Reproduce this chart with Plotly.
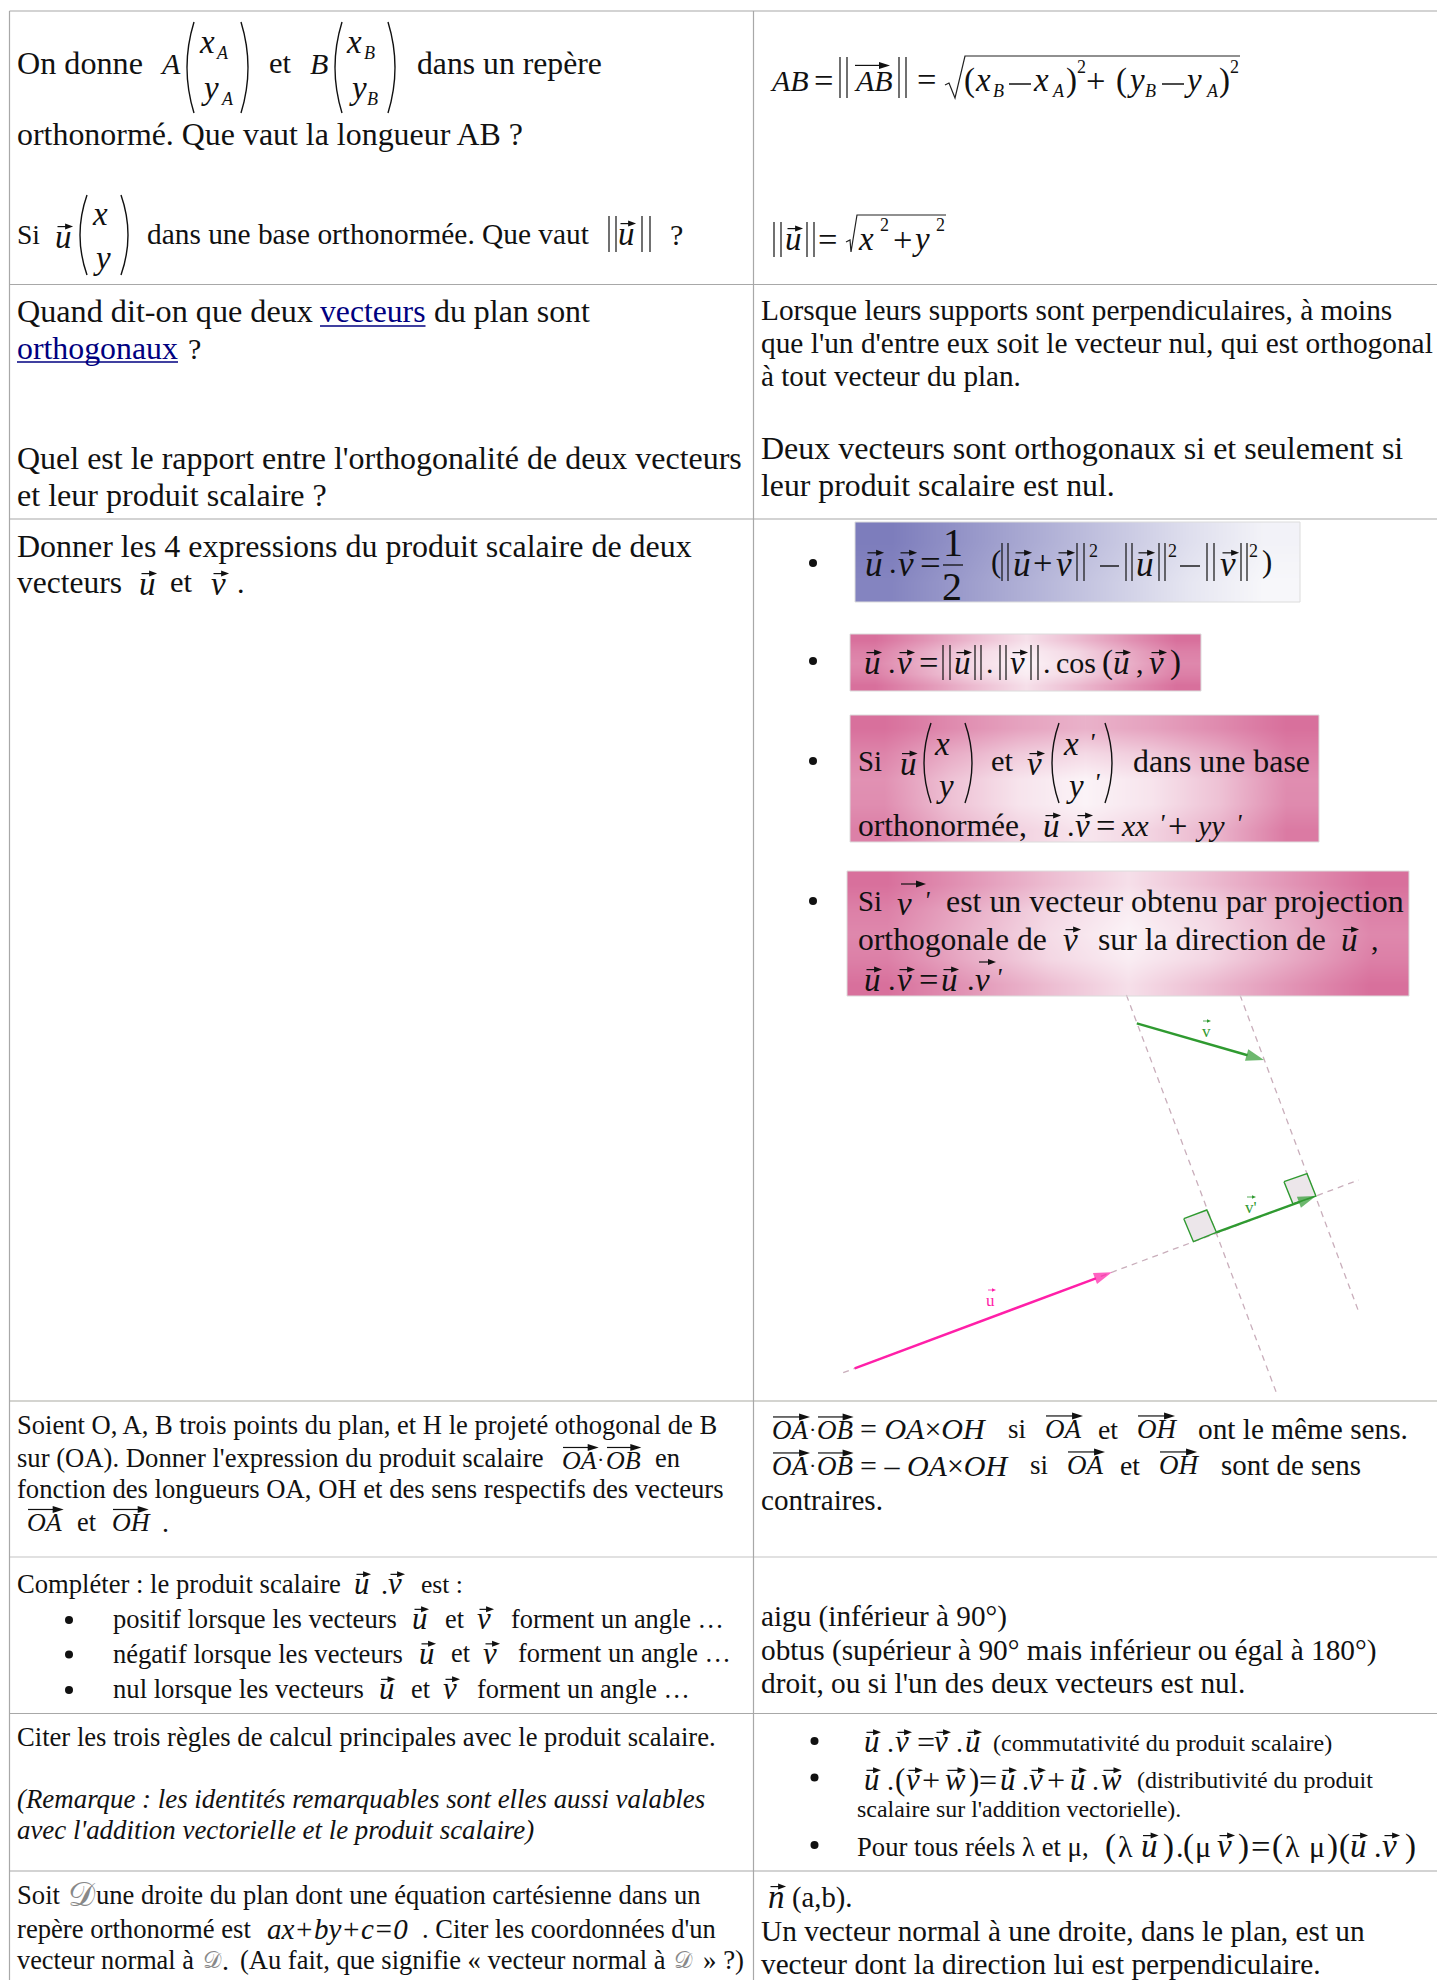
import unicodedata
import numpy as np
import plotly.graph_objects as go

# ---------- document texts ----------
R1_LEFT = ["On donne", "et", "dans un repère", "orthonormé. Que vaut la longueur AB ?",
           "Si", "dans une base orthonormée. Que vaut", "?"]
R2_LEFT = ["Quand dit-on que deux", "vecteurs", "du plan sont", "orthogonaux", "?",
           "Quel est le rapport entre l'orthogonalité de deux vecteurs",
           "et leur produit scalaire ?"]
R2_RIGHT = ["Lorsque leurs supports sont perpendiculaires, à moins",
            "que l'un d'entre eux soit le vecteur nul, qui est orthogonal",
            "à tout vecteur du plan.",
            "Deux vecteurs sont orthogonaux si et seulement si",
            "leur produit scalaire est nul."]
R3_LEFT = ["Donner les 4 expressions du produit scalaire de deux", "vecteurs", "et", "."]
R3_BOX = ["Si", "et", "dans une base", "orthonormée,",
          "est un vecteur obtenu par projection", "orthogonale de",
          "sur la direction de", ","]
R4_LEFT = ["Soient O, A, B trois points du plan, et H le projeté othogonal de B",
           "sur (OA). Donner l'expression du produit scalaire", "en",
           "fonction des longueurs OA, OH et des sens respectifs des vecteurs", "et", "."]
R4_RIGHT = ["si", "et", "ont le même sens.", "sont de sens", "contraires."]
R5_LEFT = ["Compléter : le produit scalaire", "est :",
           "positif lorsque les vecteurs", "négatif lorsque les vecteurs",
           "nul lorsque les vecteurs", "et", "forment un angle …"]
R5_RIGHT = ["aigu (inférieur à 90°)", "obtus (supérieur à 90° mais inférieur ou égal à 180°)",
            "droit, ou si l'un des deux vecteurs est nul."]
R6_LEFT = ["Citer les trois règles de calcul principales avec le produit scalaire.",
           "(Remarque : les identités remarquables sont elles aussi valables",
           "avec l'addition vectorielle et le produit scalaire)"]
R6_RIGHT = ["(commutativité du produit scalaire)", "(distributivité du produit",
            "scalaire sur l'addition vectorielle).", "Pour tous réels λ et μ,"]
R7_LEFT = ["Soit", "une droite du plan dont une équation cartésienne dans un",
           "repère orthonormé est", ". Citer les coordonnées d'un", "vecteur normal à",
           "(Au fait, que signifie « vecteur normal à", "» ?)"]
R7_RIGHT = ["(a,b).", "Un vecteur normal à une droite, dans le plan, est un",
            "vecteur dont la direction lui est perpendiculaire."]

# ---------- geometric figure (vectors and projection lines) ----------
DASH_1_X, DASH_1_Y = [1126.4, 1276.5], [995, 1393]
DASH_2_X, DASH_2_Y = [1240, 1358.7], [995, 1311.7]
BASE_X, BASE_Y = [843.2, 1358.7], [1372.7, 1180]
V_X, V_Y = [1136.8, 1264], [1023.3, 1060]
U_X, U_Y = [854.7, 1111.9], [1368.3, 1272.3]
VP_X, VP_Y = [1216.4, 1315.9], [1232.3, 1196]
SQ1_X, SQ1_Y = [1183.8, 1206.8, 1216.4, 1193.4, 1183.8], [1218.7, 1210, 1232.3, 1241.7, 1218.7]
SQ2_X, SQ2_Y = [1284, 1307, 1315.9, 1293, 1284], [1181.7, 1173.7, 1196, 1204, 1181.7]

# ---------- list bullets ----------
BULLET_X = [813, 813, 813, 813, 69, 69, 69, 814.5, 814.5, 814.5]
BULLET_Y = [563, 661, 761, 901, 1620, 1654.5, 1690, 1741, 1777.5, 1845]

# ---------- box gradients ----------
GRAD_BLUE = [[0.0, 0.2, 0.4, 0.6, 0.8, 0.96], [0.06, 0.26, 0.46, 0.66, 0.86, 1.0]]
GRAD_PINK = [[1.00, 0.72, 0.42, 0.15, 0.42, 0.72, 1.00],
             [0.88, 0.55, 0.22, 0.05, 0.22, 0.55, 0.88],
             [0.82, 0.50, 0.18, 0.00, 0.18, 0.50, 0.82],
             [0.88, 0.55, 0.22, 0.05, 0.22, 0.55, 0.88],
             [1.00, 0.72, 0.42, 0.15, 0.42, 0.72, 1.00]]
GRAD_PINK_LOW = [[1.00, 0.80, 0.62, 0.50, 0.62, 0.80, 1.00],
                 [0.85, 0.55, 0.32, 0.20, 0.32, 0.55, 0.88],
                 [0.75, 0.38, 0.12, 0.00, 0.12, 0.38, 0.78],
                 [0.78, 0.38, 0.12, 0.00, 0.12, 0.38, 0.80],
                 [0.88, 0.50, 0.25, 0.10, 0.25, 0.50, 0.92]]

SERIF = "Liberation Serif"
W = dict(zip("abcdefghijklmnopqrstuvwxyz",
             [.444,.5,.444,.5,.444,.333,.5,.5,.278,.278,.5,.278,.778,.5,.5,.5,.5,.333,.389,.278,.5,.5,.722,.5,.5,.444]))
W.update(zip("ABCDEFGHIJKLMNOPQRSTUVWXYZ",
             [.722,.667,.667,.722,.611,.556,.722,.722,.333,.389,.722,.611,.889,.722,.722,.556,.722,.667,.556,.611,.722,.722,.944,.722,.722,.611]))
W.update({" ":.25, ".":.25, ",":.25, ":":.278, "'":.18, "(":.333, ")":.333, "?":.444, "-":.333,
          "°":.4, "…":1.0, "«":.5, "»":.5, "λ":.55, "μ":.5})
for d in "0123456789":
    W[d] = .5


def em(s):
    t = 0
    for c in s:
        base = unicodedata.normalize("NFD", c)[0]
        t += W.get(base, .5)
    return t


ann, shp = [], []
DX, DY = -1.2, -0.7


def put(s, x, y, size, color="#111", italic=False, anchor="left", family=SERIF):
    if italic and len(s) == 1 and s.islower() and size >= 24:
        size *= 1.1
        x -= 1.5
    if s in ("=", "+") and size >= 24:
        size *= 1.15
        x -= 1.5
    if s in ("(", ")") and size >= 24:
        size *= 1.1
    ann.append(dict(x=x + DX, y=y + DY, xref="x", yref="y", text=f"<i>{s}</i>" if italic else s,
                    showarrow=False, xanchor=anchor, yanchor="middle", borderpad=0,
                    font=dict(family=family, size=size, color=color)))


def T(s, x0, x1, y, color="#111", italic=False):
    put(s, x0, y, (x1 - x0) / em(s), color, italic)


def line(x0, y0, x1, y1, w=1.0, c="#111"):
    shp.append(dict(type="line", x0=x0, y0=y0, x1=x1, y1=y1, xref="x", yref="y",
                    line=dict(color=c, width=w)))


def arrow(x0, x1, y, c="#111", w=1.2, h=3.0, L=8):
    line(x0, y, x1 - L * 0.6, y, w, c)
    shp.append(dict(type="path", xref="x", yref="y", fillcolor=c, line=dict(width=0),
                    path=f"M {x1},{y} L {x1-L},{y-h} L {x1-L},{y+h} Z"))


def V(s, x, y, size=30, wid=None):
    put(s, x, y, size, italic=True)
    w = wid or size * 0.52
    arrow(x + 0.5, x + w + 0.5, y - 0.38 * size)


def OV(s, x, y, size=27, x1=None):
    put(s, x, y, size, italic=True)
    w = (x1 - x) if x1 else em(s) * size * 0.95
    arrow(x + 1, x + w + 1, y - 0.52 * size, h=3.5, L=11)


def bars(x0, x1, y0, y1):
    line(x0, y0, x0, y1, 1.2)
    line(x1, y0, x1, y1, 1.2)


def paren(x0, x1, y0, y1, left=True):
    a, b = (x1, x0) if left else (x0, x1)
    ctrl = 2 * b - a
    shp.append(dict(type="path", xref="x", yref="y", line=dict(color="#111", width=1.4),
                    path=f"M {a},{y0} Q {ctrl},{(y0+y1)/2} {a},{y1}"))


def root(x0, xb, xt, x2, ym, yb, yt):
    shp.append(dict(type="path", xref="x", yref="y", line=dict(color="#222", width=1.2),
                    path=f"M {x0},{ym} L {x0+4},{ym-2} L {xb},{yb} L {xt},{yt} L {x2},{yt}"))


# ---------- grid ----------
for y, c, w in [(11, "#a8a8a8", 1.2), (284.5, "#a8a8a8", 1.2), (519, "#a8a8a8", 1.2), (1401, "#d4d4d0", 2.2),
                (1557, "#c4c4c4", 1.2), (1713.5, "#a8a8a8", 1.2), (1871, "#a8a8a8", 1.2)]:
    line(9.5, y, 1437, y, w, c)
line(9.5, 11, 9.5, 1980, 1.2, "#a8a8a8")
line(753.5, 11, 753.5, 1980, 1.2, "#a8a8a8")

# ---------- row 1 left ----------
T(R1_LEFT[0], 17, 143, 64)
put("A", 160, 64, 30, italic=True)
paren(187, 194, 22, 113); paren(241, 248, 22, 113, False)
put("x", 201, 43, 30, italic=True); put("A", 216, 54, 18, italic=True)
put("y", 203, 89, 30, italic=True); put("A", 221, 100, 18, italic=True)
T(R1_LEFT[1], 269, 291, 64)
put("B", 310, 64, 30, italic=True)
paren(335, 342, 22, 113); paren(388, 395, 22, 113, False)
put("x", 348, 43, 30, italic=True); put("B", 364, 54, 18, italic=True)
put("y", 351, 89, 30, italic=True); put("B", 367, 100, 18, italic=True)
T(R1_LEFT[2], 417, 602, 64)
T(R1_LEFT[3], 17, 525, 135)
T(R1_LEFT[4], 17, 40, 235)
V("u", 57, 238)
paren(80, 87, 195, 275); paren(121, 128, 195, 275, False)
put("x", 94, 215, 30, italic=True); put("y", 95, 259, 30, italic=True)
T(R1_LEFT[5], 147, 589, 235)
bars(609, 616, 216, 252); V("u", 620, 235); bars(642, 650, 216, 252)
put(R1_LEFT[6], 670, 235, 30)

# ---------- row 1 right ----------
put("AB", 770, 81, 30, italic=True); put("=", 816, 81, 30)
bars(840, 847, 57, 98); OV("AB", 854, 81, 30, 889); bars(899, 906, 57, 98)
put("=", 919, 80, 30)
root(945, 955, 965, 1240, 85, 98, 56)
put("(", 964, 81, 30); put("x", 977, 81, 30, italic=True); put("B", 993, 92, 18, italic=True)
line(1009, 84, 1031, 84, 1.5)
put("x", 1035, 81, 30, italic=True); put("A", 1052, 92, 18, italic=True)
put(")", 1066, 81, 30); put("2", 1077, 68, 18)
put("+", 1088, 81, 30)
put("(", 1116, 81, 30); put("y", 1129, 81, 30, italic=True); put("B", 1145, 92, 18, italic=True)
line(1162, 84, 1184, 84, 1.5)
put("y", 1186, 81, 30, italic=True); put("A", 1206, 92, 18, italic=True)
put(")", 1219, 81, 30); put("2", 1230, 68, 18)

bars(774, 781, 222, 257); V("u", 787, 240); bars(807, 814, 222, 257)
put("=", 820, 240, 30)
root(846, 851, 857, 946, 242, 252, 215)
put("x", 860, 240, 30, italic=True); put("2", 880, 226, 18)
put("+", 895, 240, 30); put("y", 914, 240, 30, italic=True); put("2", 936, 226, 18)

# ---------- row 2 ----------
LINK = "#000080"
T(R2_LEFT[0], 17, 313, 312)
T(R2_LEFT[1], 320, 425.5, 312, LINK)
line(320, 326, 425.5, 326, 1.4, LINK)
T(R2_LEFT[2], 434, 590, 312)
T(R2_LEFT[3], 17, 178, 349, LINK)
line(17, 362, 178, 362, 1.4, LINK)
put(R2_LEFT[4], 188, 349, 30)
T(R2_LEFT[5], 17, 742, 459)
T(R2_LEFT[6], 17, 327, 496)
T(R2_RIGHT[0], 761, 1392.5, 311)
T(R2_RIGHT[1], 761, 1433, 344)
T(R2_RIGHT[2], 761, 1021, 377)
T(R2_RIGHT[3], 761, 1403.5, 449)
T(R2_RIGHT[4], 761, 1115, 486)

# ---------- row 3 left ----------
T(R3_LEFT[0], 17, 692, 547)
T(R3_LEFT[1], 17, 122, 583)
V("u", 141, 585)
T(R3_LEFT[2], 170, 192, 583)
V("v", 213, 585)
put(R3_LEFT[3], 237, 583, 30)


# ---------- row 3 boxes ----------
def grad(x0, x1, y0, y1, z, scale, edge="#dcdcdc"):
    rows, cols = len(z), len(z[0])
    hx, hy = (x1 - x0) / cols / 2, (y1 - y0) / rows / 2
    traces.append(go.Heatmap(z=z, x=np.linspace(x0 + hx, x1 - hx, cols), y=np.linspace(y0 + hy, y1 - hy, rows),
                             colorscale=scale, zmin=0, zmax=1, zsmooth="best", showscale=False, hoverinfo="skip"))
    shp.append(dict(type="rect", x0=x0, x1=x1, y0=y0, y1=y1, xref="x", yref="y", line=dict(color=edge, width=1)))


traces = []
BLUE = [[0, "#7d7dbc"], [1, "#f7f7fa"]]
PINK = [[0, "#fbf3f7"], [1, "#d8709c"]]
grad(855, 1300, 522, 602, GRAD_BLUE, BLUE)
grad(850, 1201, 634, 691, GRAD_PINK, PINK)
grad(850, 1319, 715, 842, GRAD_PINK_LOW, PINK)
grad(847, 1409, 871, 996, GRAD_PINK, PINK)

# box 1
V("u", 867, 565, 32); put(".", 889, 563, 30); V("v", 900, 565, 32); put("=", 922, 563, 32)
put("1", 943, 543, 40); line(943, 565, 963, 565, 1.3); put("2", 942, 587, 40)
put("(", 991, 563, 28)
bars(1002, 1008, 543, 581); V("u", 1015, 565, 32); put("+", 1035, 563, 30); V("v", 1058, 565, 32)
bars(1077, 1084, 543, 581); put("2", 1089, 552, 18)
line(1100, 566, 1119, 566, 1.4)
bars(1126, 1132, 543, 581); V("u", 1138, 565, 32); bars(1159, 1165, 543, 581); put("2", 1168, 552, 18)
line(1180, 566, 1200, 566, 1.4)
bars(1207, 1214, 543, 581); V("v", 1222, 565, 32); bars(1241, 1247, 543, 581); put("2", 1249, 552, 18)
put(")", 1262, 563, 28)
# box 2
V("u", 866, 664, 30); put(".", 888, 663, 30); V("v", 899, 664, 30); put("=", 921, 663, 30)
bars(943, 950, 645, 680); V("u", 956, 664, 30); bars(975, 981, 645, 680)
put(".", 986, 663, 30)
bars(1000, 1006, 645, 680); V("v", 1012, 664, 30); bars(1031, 1038, 645, 680)
put(".", 1043, 663, 30); put("cos", 1056, 663, 30)
put("(", 1102, 663, 30); V("u", 1115, 664, 30); put(",", 1136, 663, 30); V("v", 1151, 664, 30); put(")", 1170, 663, 30)
# box 3
T(R3_BOX[0], 858, 882, 762)
V("u", 901.5, 765, 30)
paren(924, 931, 723, 803); paren(965, 972, 723, 803, False)
put("x", 936, 745, 30, italic=True); put("y", 938, 787, 30, italic=True)
T(R3_BOX[1], 991, 1013, 762)
V("v", 1029, 765, 30)
paren(1052, 1059, 723, 803); paren(1105, 1112, 723, 803, False)
put("x", 1065, 745, 30, italic=True); put("'", 1089, 743, 26, italic=True)
put("y", 1068, 787, 30, italic=True); put("'", 1094, 783, 26, italic=True)
T(R3_BOX[2], 1133, 1310, 762)
T(R3_BOX[3], 858, 1027, 826)
V("u", 1045, 827, 30); put(".", 1067, 826, 30); V("v", 1077, 827, 30); put("=", 1098, 826, 30)
put("xx", 1121, 826, 30, italic=True); put("'", 1159, 824, 26, italic=True); put("+", 1170, 826, 30)
put("yy", 1195, 826, 30, italic=True); put("'", 1236, 824, 26, italic=True)
# box 4
T(R3_BOX[0], 858, 882, 902)
put("v", 899, 905, 30, italic=True); put("'", 924.5, 901, 26, italic=True)
arrow(901, 926, 884, h=3.5, L=10)
T(R3_BOX[4], 946, 1404, 902)
T(R3_BOX[5], 858, 1047, 940)
V("v", 1065, 941, 30)
T(R3_BOX[6], 1098, 1326, 940)
V("u", 1343, 941, 30)
put(R3_BOX[7], 1371, 940, 30)
V("u", 866, 981, 30); put(".", 888, 980, 30); V("v", 899, 981, 30); put("=", 921, 980, 30)
V("u", 943, 981, 30); put(".", 967, 980, 30)
put("v", 977, 981, 30, italic=True); put("'", 996, 978, 26, italic=True)
arrow(979, 996, 962, h=3, L=8)

# ---------- figure ----------
DASHC = "#c9aebb"
for xs, ys in [(DASH_1_X, DASH_1_Y), (DASH_2_X, DASH_2_Y), (BASE_X, BASE_Y)]:
    traces.append(go.Scatter(x=xs, y=ys, mode="lines", hoverinfo="skip",
                             line=dict(color=DASHC, width=1.3, dash="6px,5px")))
GREEN, MAGENTA = "#2f9a30", "#ff1fa8"
for xs, ys in [(SQ1_X, SQ1_Y), (SQ2_X, SQ2_Y)]:
    traces.append(go.Scatter(x=xs, y=ys, mode="lines", fill="toself", fillcolor="#ece6ea", hoverinfo="skip",
                             line=dict(color=GREEN, width=1.4)))
for xs, ys, c in [(V_X, V_Y, GREEN), (VP_X, VP_Y, GREEN), (U_X, U_Y, MAGENTA)]:
    traces.append(go.Scatter(x=xs, y=ys, mode="lines+markers", hoverinfo="skip",
                             line=dict(color=c, width=2.4),
                             marker=dict(symbol="arrow", angleref="previous", size=[0, 19], color=c, line=dict(width=0))))
traces.append(go.Scatter(x=BULLET_X, y=BULLET_Y, mode="markers", hoverinfo="skip",
                         marker=dict(symbol="circle", size=8, color="#111", line=dict(width=0))))
put("v", 1202, 1032, 17, GREEN); arrow(1203, 1211, 1021, GREEN, 0.8, 1.8, 4)
put("v'", 1245, 1208, 17, GREEN); arrow(1247, 1256, 1197, GREEN, 0.8, 1.8, 4)
put("u", 986, 1301, 17, MAGENTA); arrow(988, 996, 1290, MAGENTA, 0.8, 1.8, 4)

# ---------- row 4 ----------
T(R4_LEFT[0], 17, 719, 1426)
T(R4_LEFT[1], 17, 544, 1459)
OV("OA", 562, 1461, 26); put("·", 597, 1460, 22); OV("OB", 606, 1461, 26)
T(R4_LEFT[2], 655, 680, 1459)
T(R4_LEFT[3], 17, 724, 1490)
OV("OA", 27, 1523, 26)
T(R4_LEFT[4], 77, 96, 1523)
OV("OH", 112, 1523, 26)
put(R4_LEFT[5], 162, 1523, 28)

OV("OA", 772, 1431, 27); put("·", 809, 1430, 22); OV("OB", 817, 1431, 27)
put("= <i>OA</i>×<i>OH</i>", 860, 1429, 30)
T(R4_RIGHT[0], 1008, 1026, 1430)
OV("OA", 1045, 1430, 27)
T(R4_RIGHT[1], 1098, 1118, 1430)
OV("OH", 1137, 1430, 27)
T(R4_RIGHT[2], 1198, 1408, 1430)
OV("OA", 772, 1467, 27); put("·", 809, 1466, 22); OV("OB", 817, 1467, 27)
put("= – <i>OA</i>×<i>OH</i>", 860, 1466, 30)
T(R4_RIGHT[0], 1030, 1048, 1466)
OV("OA", 1067, 1466, 27)
T(R4_RIGHT[1], 1120, 1140, 1466)
OV("OH", 1159, 1466, 27)
T(R4_RIGHT[3], 1221, 1361, 1466)
T(R4_RIGHT[4], 761, 883, 1501)

# ---------- row 5 ----------
T(R5_LEFT[0], 17, 341, 1585)
V("u", 356, 1585, 28); put(".", 381, 1585, 28); V("v", 390, 1585, 28)
T(R5_LEFT[1], 421, 463, 1585)
for by, txt, x1, ux, ex, vx, fx in [(1620, R5_LEFT[2], 397, 414, 445, 479, 511),
                                     (1654.5, R5_LEFT[3], 403, 421, 451, 485, 518),
                                     (1690, R5_LEFT[4], 364, 380.5, 411, 445, 477.5)]:
    T(txt, 113, x1, by)
    V("u", ux, by, 28)
    T(R5_LEFT[5], ex, ex + 19, by)
    V("v", vx, by, 28)
    T(R5_LEFT[6], fx, fx + 213, by)
T(R5_RIGHT[0], 761, 1007, 1617.6)
T(R5_RIGHT[1], 761, 1377, 1651)
T(R5_RIGHT[2], 761, 1245.6, 1684)

# ---------- row 6 ----------
T(R6_LEFT[0], 17, 716, 1738)
T(R6_LEFT[1], 17, 699.5, 1800, italic=True)
T(R6_LEFT[2], 17, 528, 1831, italic=True)
V("u", 866, 1743, 28); put(".", 887, 1743, 28); V("v", 897, 1743, 28); put("=", 919, 1743, 28)
V("v", 936, 1743, 28); put(".", 956, 1743, 28); V("u", 967, 1743, 28)
T(R6_RIGHT[0], 993, 1332.5, 1743.6)
V("u", 866, 1781, 28); put(".", 887, 1781, 28); put("(", 895, 1781, 28); V("v", 908, 1781, 28); put("+", 924, 1781, 28)
V("w", 947, 1781, 28, 18); put(")", 969, 1781, 28); put("=", 981, 1781, 28)
V("u", 1002, 1781, 28); put(".", 1022, 1781, 28); V("v", 1031, 1781, 28); put("+", 1049, 1781, 28)
V("u", 1072, 1781, 28); put(".", 1092, 1781, 28); V("w", 1103, 1781, 28, 18)
T(R6_RIGHT[1], 1137, 1373, 1781)
T(R6_RIGHT[2], 857.5, 1182, 1810)
T(R6_RIGHT[3], 857.5, 1090, 1848)
put("(", 1105, 1847, 30); put("λ", 1118, 1847, 30); V("u", 1142.5, 1847, 30); put(")", 1163, 1847, 30); put(".", 1176, 1847, 30)
put("(", 1183, 1847, 30); put("μ", 1195, 1847, 30); V("v", 1219, 1847, 30); put(")", 1238, 1847, 30); put("=", 1253, 1847, 30)
put("(", 1272, 1847, 30); put("λ", 1285, 1847, 30); put("μ", 1309, 1847, 30); put(")", 1327, 1847, 30)
put("(", 1339, 1847, 30); V("u", 1352, 1847, 30); put(".", 1374, 1847, 30); V("v", 1384, 1847, 30); put(")", 1405, 1847, 30)

# ---------- row 7 ----------
SCRIPT = "𝒟"
T(R7_LEFT[0], 17, 60, 1896)
put(SCRIPT, 68, 1895, 34, "#888", family="DejaVu Sans")
T(R7_LEFT[1], 96, 701, 1896)
T(R7_LEFT[2], 17, 251, 1930)
put("ax+by+c=0", 267, 1930, 29, italic=True)
T(R7_LEFT[3], 422, 716, 1930)
T(R7_LEFT[4], 17, 194, 1961)
put(SCRIPT, 203, 1961, 23, "#888", family="DejaVu Sans")
put(".", 222, 1961, 28)
T(R7_LEFT[5], 240, 666, 1961)
put(SCRIPT, 674, 1961, 23, "#888", family="DejaVu Sans")
T(R7_LEFT[6], 703, 744, 1961)
V("n", 770, 1898, 30)
T(R7_RIGHT[0], 792.5, 853, 1898)
T(R7_RIGHT[1], 761, 1365, 1932)
T(R7_RIGHT[2], 761, 1321, 1965)

fig = go.Figure(data=traces)
fig.update_layout(width=1437, height=1980, margin=dict(l=0, r=0, t=0, b=0), showlegend=False,
                  paper_bgcolor="white", plot_bgcolor="white", annotations=ann, shapes=shp,
                  xaxis=dict(range=[0, 1437], visible=False, fixedrange=True),
                  yaxis=dict(range=[1980, 0], visible=False, fixedrange=True))
fig.write_html("out.html", config={"displayModeBar": False},
               post_script="document.body.style.margin='0';")
